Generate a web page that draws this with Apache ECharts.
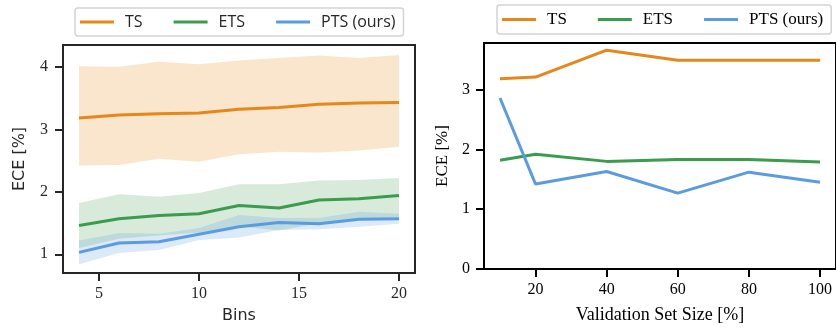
<!DOCTYPE html>
<html>
<head>
<meta charset="utf-8">
<script src="https://cdn.jsdelivr.net/npm/echarts@6/dist/echarts.min.js"></script>
<style>
  html, body { margin: 0; padding: 0; background: #fff; }
  #chart { width: 836px; height: 329px; }
</style>
</head>
<body>
<div id="chart"></div>
<script>
// left panel: ECE vs number of bins (mean + spread band)
const bins = [4, 6, 8, 10, 12, 14, 16, 18, 20];
const tsMean = [3.18, 3.23, 3.25, 3.26, 3.32, 3.35, 3.40, 3.42, 3.43];
const tsUpper = [4.01, 4.00, 4.08, 4.04, 4.10, 4.14, 4.18, 4.14, 4.19];
const tsLower = [2.42, 2.43, 2.53, 2.48, 2.60, 2.64, 2.63, 2.66, 2.72];
const etsMean = [1.46, 1.57, 1.62, 1.65, 1.78, 1.74, 1.87, 1.89, 1.94];
const etsUpper = [1.82, 1.96, 1.92, 1.98, 2.12, 2.12, 2.18, 2.19, 2.22];
const etsLower = [1.10, 1.25, 1.30, 1.35, 1.45, 1.38, 1.50, 1.55, 1.60];
const ptsMean = [1.03, 1.18, 1.20, 1.32, 1.44, 1.51, 1.49, 1.56, 1.57];
const ptsUpper = [1.22, 1.34, 1.33, 1.42, 1.63, 1.58, 1.58, 1.68, 1.65];
const ptsLower = [0.84, 1.02, 1.07, 1.23, 1.27, 1.39, 1.40, 1.44, 1.49];

// right panel: ECE vs validation set size
const sizes = [10, 20, 40, 60, 80, 100];
const tsVal = [3.18, 3.21, 3.66, 3.49, 3.49, 3.49];
const etsVal = [1.82, 1.92, 1.80, 1.83, 1.83, 1.79];
const ptsVal = [2.86, 1.42, 1.63, 1.27, 1.62, 1.45];

const leftXTicks = [5, 10, 15, 20];
const leftYTicks = [1, 2, 3, 4];
const rightXTicks = [20, 40, 60, 80, 100];
const rightYTicks = [0, 1, 2, 3];

const names = ['TS', 'ETS', 'PTS (ours)'];
const colors = ['#e6871a', '#3a9c4c', '#5b9be0'];
const bandColors = ['rgba(230,135,26,0.22)', 'rgba(58,156,76,0.2)', 'rgba(91,155,224,0.22)'];

const serif = 'Liberation Serif';
const sans = 'DejaVu Sans';
const dark = '#262626';

function pairs(xs, ys) {
  return xs.map((x, i) => [x, ys[i]]);
}

// filled band between lower and upper, drawn as one polygon
function band(lower, upper, color) {
  return {
    type: 'custom', xAxisIndex: 0, yAxisIndex: 0, silent: true, z: 1,
    data: bins.map((x, i) => [x, lower[i], upper[i]]),
    encode: { x: 0, y: [1, 2] },
    renderItem: function (params, api) {
      if (params.dataIndex !== 0) return;
      const n = bins.length;
      const top = [], bot = [];
      for (let i = 0; i < n; i++) {
        top.push(api.coord([api.value(0, i), api.value(2, i)]));
        bot.push(api.coord([api.value(0, i), api.value(1, i)]));
      }
      return {
        type: 'polygon',
        shape: { points: top.concat(bot.reverse()) },
        style: { fill: color }
      };
    }
  };
}

function line(name, xi, xs, ys, color) {
  return {
    name: name, type: 'line', xAxisIndex: xi, yAxisIndex: xi,
    symbol: 'none', z: 5,
    lineStyle: { color: color, width: 3 },
    itemStyle: { color: color },
    data: pairs(xs, ys)
  };
}

function axisCommon(color, font, size) {
  return {
    axisLine: { show: true, lineStyle: { color: color, width: 2 } },
    axisTick: { show: true, inside: false, length: 8, lineStyle: { color: color, width: 2 } },
    splitLine: { show: false },
    nameTextStyle: { color: color, fontSize: 16 },
    axisLabel: { color: color, fontFamily: font, fontSize: size }
  };
}

function legendBox(left, top, font, size, color) {
  return {
    left: left, top: top, icon: 'rect', itemWidth: 34, itemHeight: 3, itemGap: 31,
    padding: [6, 8, 6, 5],
    borderColor: '#d4d4d4', borderWidth: 1.5, borderRadius: 3,
    data: names,
    formatter: name => '{g|}' + name,
    textStyle: {
      fontFamily: font, fontSize: size, color: color,
      rich: { g: { width: 6 } }
    }
  };
}

const chart = echarts.init(document.getElementById('chart'), null, { renderer: 'canvas' });

const lx = axisCommon(dark, serif, 16);
const ly = axisCommon(dark, serif, 16);
const rx = axisCommon('#000', serif, 16);
const ry = axisCommon('#000', serif, 16);

const option = {
  animation: false,
  backgroundColor: '#fff',
  legend: [
    legendBox(75, 8, 'Open Sans', 16, dark),
    legendBox(497, 5, serif, 17, '#000')
  ],
  grid: [
    { left: 63, top: 45, right: 421, bottom: 56, show: true, borderColor: dark, borderWidth: 2 },
    { left: 484, top: 43, right: 0, bottom: 57, show: true, borderColor: '#000', borderWidth: 2 }
  ],
  xAxis: [
    Object.assign({}, lx, {
      type: 'value', gridIndex: 0, min: 3.2, max: 20.8,
      name: 'Bins', nameLocation: 'middle', nameGap: 35,
      nameTextStyle: { color: dark, fontFamily: sans, fontSize: 16 },
      axisTick: Object.assign({}, lx.axisTick, { customValues: leftXTicks }),
      axisLabel: Object.assign({}, lx.axisLabel, { customValues: leftXTicks, margin: 13 })
    }),
    Object.assign({}, rx, {
      type: 'value', gridIndex: 1, min: 5.5, max: 104.5,
      name: 'Validation Set Size [%]', nameLocation: 'middle', nameGap: 37,
      nameTextStyle: { color: '#000', fontFamily: serif, fontSize: 18 },
      axisTick: Object.assign({}, rx.axisTick, { customValues: rightXTicks }),
      axisLabel: Object.assign({}, rx.axisLabel, { customValues: rightXTicks, margin: 13 })
    })
  ],
  yAxis: [
    Object.assign({}, ly, {
      type: 'value', gridIndex: 0, min: 0.7, max: 4.35,
      name: 'ECE [%]', nameLocation: 'middle', nameGap: 35,
      nameTextStyle: { color: dark, fontFamily: sans, fontSize: 16 },
      axisTick: Object.assign({}, ly.axisTick, { customValues: leftYTicks }),
      axisLabel: Object.assign({}, ly.axisLabel, { customValues: leftYTicks, margin: 15 })
    }),
    Object.assign({}, ry, {
      type: 'value', gridIndex: 1, min: 0, max: 3.78,
      name: 'ECE [%]', nameLocation: 'middle', nameGap: 33,
      nameTextStyle: { color: '#000', fontFamily: serif, fontSize: 17 },
      axisTick: Object.assign({}, ry.axisTick, { customValues: rightYTicks }),
      axisLabel: Object.assign({}, ry.axisLabel, { customValues: rightYTicks, margin: 14 })
    })
  ],
  series: [
    band(tsLower, tsUpper, bandColors[0]),
    band(etsLower, etsUpper, bandColors[1]),
    band(ptsLower, ptsUpper, bandColors[2]),
    line(names[0], 0, bins, tsMean, colors[0]),
    line(names[1], 0, bins, etsMean, colors[1]),
    line(names[2], 0, bins, ptsMean, colors[2]),
    line(names[0], 1, sizes, tsVal, colors[0]),
    line(names[1], 1, sizes, etsVal, colors[1]),
    line(names[2], 1, sizes, ptsVal, colors[2])
  ]
};

chart.setOption(option);
</script>
</body>
</html>
